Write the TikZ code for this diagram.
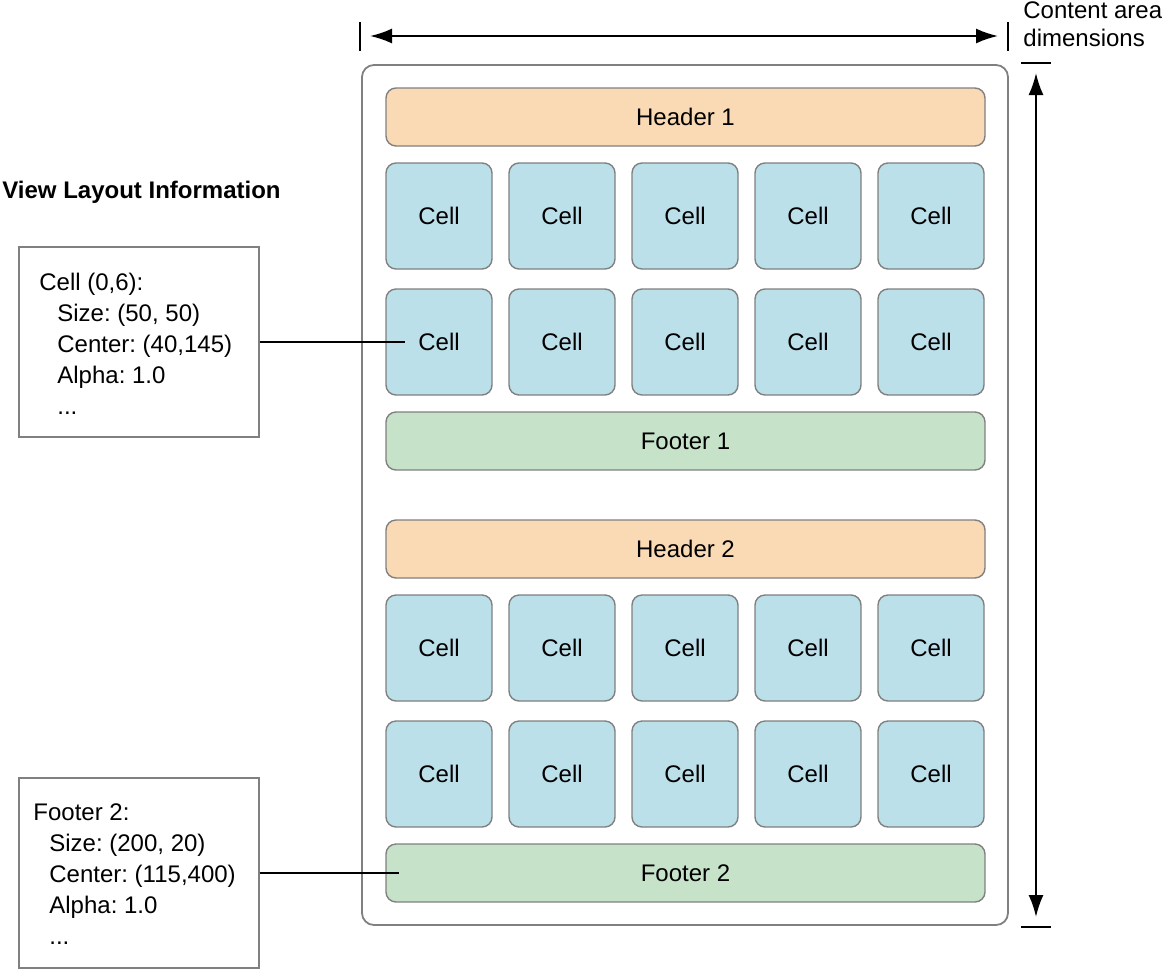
\documentclass[tikz,border=0pt]{standalone}
\usepackage{fontspec}
\setmainfont{Liberation Sans}
\usetikzlibrary{arrows.meta}
\definecolor{cellblue}{HTML}{BCE0EA}
\definecolor{headorange}{HTML}{FAD9B5}
\definecolor{footgreen}{HTML}{C6E3CA}
\definecolor{edgegray}{HTML}{808080}
\frenchspacing
\begin{document}
\begin{tikzpicture}[x=0.5pt, y=-0.5pt,
  every node/.style={font=\fontsize{12}{15.5}\selectfont},
  tile/.style={draw=edgegray, line width=0.7pt, rounded corners=5pt},
  cell/.style={tile, fill=cellblue, minimum width=53pt, minimum height=53pt},
  band/.style={tile, minimum width=299.5pt, minimum height=29pt},
  infobox/.style={draw=edgegray, line width=0.6pt, minimum width=120pt, minimum height=95pt},
  dimline/.style={line width=1pt},
  dimarrow/.style={line width=1pt, {Latex[length=11pt,width=7.5pt]}-{Latex[length=11pt,width=7.5pt]}}]
\useasboundingbox (0,0) rectangle (1162,970);
% content area
\draw[draw=edgegray, line width=0.9pt, rounded corners=6pt] (362,65) rectangle (1008,925);
\node[band, fill=headorange] (head1) at (685.5,117) {Header 1};
\node[band, fill=footgreen] (foot1) at (685.5,441) {Footer 1};
\node[band, fill=headorange] (head2) at (685.5,549) {Header 2};
\node[band, fill=footgreen] (foot2) at (685.5,873) {Footer 2};
\foreach \r/\y in {1/216, 2/342, 3/648, 4/774}
  \foreach \c/\x in {1/439, 2/562, 3/685, 4/808, 5/931}
    \node[cell] (c\r\c) at (\x,\y) {Cell};
% dimensions
\coordinate (lefttick) at (360,36);
\coordinate (righttick) at (1008,36);
\coordinate (toptick) at (1036,63);
\coordinate (bottick) at (1036,927);
\draw[dimline] ([yshift=7pt]lefttick) -- ([yshift=-7.5pt]lefttick);
\draw[dimline] ([yshift=7pt]righttick) -- ([yshift=-7.5pt]righttick);
\draw[dimline] ([xshift=-7.5pt]toptick) -- ([xshift=7.5pt]toptick);
\draw[dimline] ([xshift=-7.5pt]bottick) -- ([xshift=7.5pt]bottick);
\draw[dimarrow] ([xshift=5pt]lefttick) -- ([xshift=-5pt]righttick);
\draw[dimarrow] ([yshift=-5pt]toptick) -- ([yshift=5pt]bottick);
\node[anchor=north west, align=left, inner sep=0pt, font=\fontsize{12}{14}\selectfont] (dimlabel) at (1023,1) {Content area\\dimensions};
% layout info
\node[anchor=west, inner sep=0pt, font=\bfseries\fontsize{12}{12}\selectfont] (title) at (2,192) {View Layout Information};
\node[infobox] (cellinfo) at (139,342) {};
\node[anchor=west, align=left, inner sep=0pt] (celltext) at (39,344)
  {Cell (0,6):\\\hspace*{9pt}Size: (50, 50)\\\hspace*{9pt}Center: (40,145)\\\hspace*{9pt}Alpha: 1.0\\\hspace*{9pt}...};
\node[infobox] (footinfo) at (139,873) {};
\node[anchor=west, align=left, inner sep=0pt] (foottext) at (33,874)
  {Footer 2:\\\hspace*{8pt}Size: (200, 20)\\\hspace*{8pt}Center: (115,400)\\\hspace*{8pt}Alpha: 1.0\\\hspace*{8pt}...};
\draw[line width=1pt] (cellinfo.east) -- ([xshift=-17pt]c21.center);
\draw[line width=1pt] (footinfo.east) -- ([xshift=7pt]foot2.west);
\end{tikzpicture}
\end{document}
